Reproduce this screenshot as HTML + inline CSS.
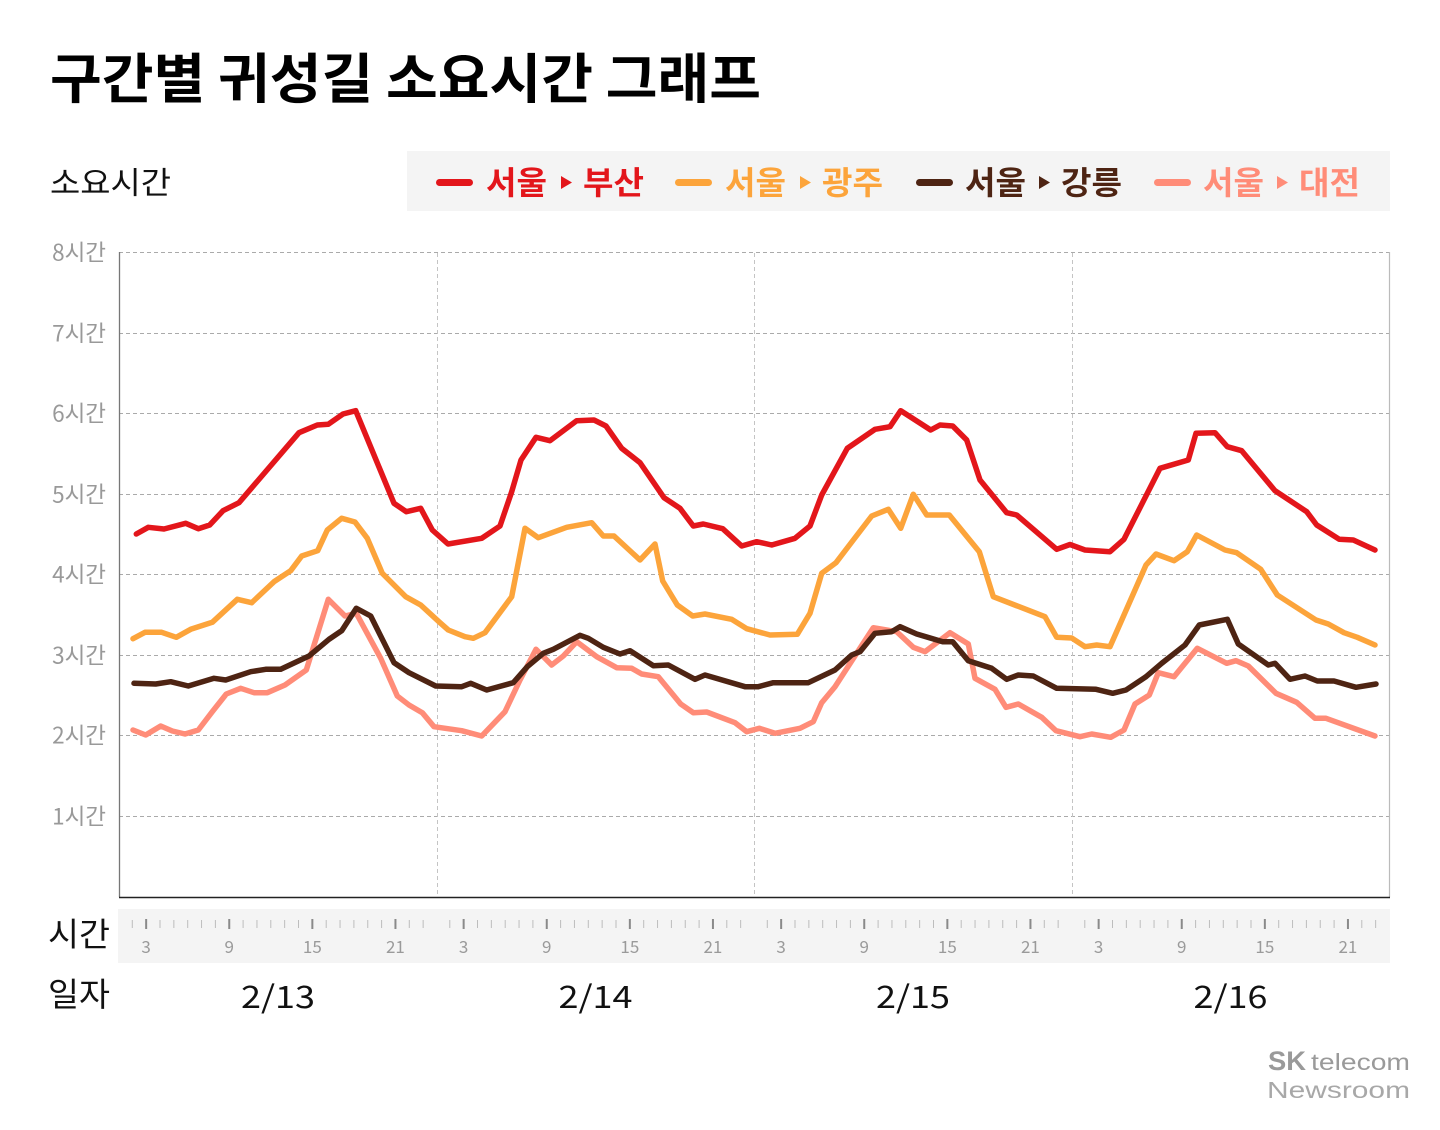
<!DOCTYPE html>
<html><head><meta charset="utf-8"><style>
html,body{margin:0;padding:0;background:#fff;}
svg{display:block;}
text{font-family:"Liberation Sans","Noto Sans CJK KR",sans-serif;}
.k{font-family:"Noto Sans CJK KR","Liberation Sans",sans-serif;}
</style></head><body>
<svg width="1440" height="1130" viewBox="0 0 1440 1130" xmlns="http://www.w3.org/2000/svg">
<rect width="1440" height="1130" fill="#fff"/>
<!-- Title -->
<text class="k" x="50" y="98" font-size="54" font-weight="700" fill="#000" textLength="711" lengthAdjust="spacingAndGlyphs">구간별 귀성길 소요시간 그래프</text>
<!-- y label -->
<text class="k" x="50" y="194" font-size="31" fill="#111" textLength="121" lengthAdjust="spacingAndGlyphs">소요시간</text>
<!-- Legend -->
<rect x="407" y="151" width="983" height="60" fill="#f4f4f4"/>
<g font-size="32" font-weight="700" class="k">
  <line x1="439.5" y1="182.5" x2="469.5" y2="182.5" stroke="#e3161b" stroke-width="7" stroke-linecap="round"/>
  <text class="k" x="486" y="194" fill="#e3161b" textLength="61" lengthAdjust="spacingAndGlyphs">서울</text>
  <polygon points="561,176 561,189 572,182.5" fill="#e3161b"/>
  <text class="k" x="583" y="194" fill="#e3161b" textLength="61" lengthAdjust="spacingAndGlyphs">부산</text>

  <line x1="678.5" y1="182.5" x2="708.5" y2="182.5" stroke="#fca43b" stroke-width="7" stroke-linecap="round"/>
  <text class="k" x="725" y="194" fill="#fca43b" textLength="61" lengthAdjust="spacingAndGlyphs">서울</text>
  <polygon points="800,176 800,189 811,182.5" fill="#fca43b"/>
  <text class="k" x="822" y="194" fill="#fca43b" textLength="61" lengthAdjust="spacingAndGlyphs">광주</text>

  <line x1="919.5" y1="182.5" x2="949.5" y2="182.5" stroke="#4e2413" stroke-width="7" stroke-linecap="round"/>
  <text class="k" x="965" y="194" fill="#4e2413" textLength="61" lengthAdjust="spacingAndGlyphs">서울</text>
  <polygon points="1039,176 1039,189 1050,182.5" fill="#4e2413"/>
  <text class="k" x="1061" y="194" fill="#4e2413" textLength="61" lengthAdjust="spacingAndGlyphs">강릉</text>

  <line x1="1157.5" y1="182.5" x2="1187.5" y2="182.5" stroke="#ff8c78" stroke-width="7" stroke-linecap="round"/>
  <text class="k" x="1203" y="194" fill="#ff8c78" textLength="61" lengthAdjust="spacingAndGlyphs">서울</text>
  <polygon points="1277,176 1277,189 1288,182.5" fill="#ff8c78"/>
  <text class="k" x="1299" y="194" fill="#ff8c78" textLength="61" lengthAdjust="spacingAndGlyphs">대전</text>
</g>
<!-- Grid -->
<g stroke="#aaaaaa" stroke-width="1" stroke-dasharray="4 3" fill="none">
  <line x1="119" y1="252.5" x2="1389" y2="252.5"/>
  <line x1="119" y1="333.5" x2="1389" y2="333.5"/>
  <line x1="119" y1="413.5" x2="1389" y2="413.5"/>
  <line x1="119" y1="494.5" x2="1389" y2="494.5"/>
  <line x1="119" y1="574.5" x2="1389" y2="574.5"/>
  <line x1="119" y1="655.5" x2="1389" y2="655.5"/>
  <line x1="119" y1="735.5" x2="1389" y2="735.5"/>
  <line x1="119" y1="816.5" x2="1389" y2="816.5"/>
</g>
<g stroke="#c4c4c4" stroke-width="1" stroke-dasharray="4 3" fill="none">
  <line x1="437.5" y1="253" x2="437.5" y2="897"/>
  <line x1="754.5" y1="253" x2="754.5" y2="897"/>
  <line x1="1072.5" y1="253" x2="1072.5" y2="897"/>
</g>
<line x1="1389.5" y1="252" x2="1389.5" y2="897" stroke="#bbbbbb" stroke-width="1.2"/>
<line x1="119.5" y1="252" x2="119.5" y2="897" stroke="#777" stroke-width="1.3"/>
<line x1="119" y1="897.5" x2="1390" y2="897.5" stroke="#222" stroke-width="1.5"/>
<!-- Y labels -->
<g class="k" font-size="22.5" fill="#999" text-anchor="end">
  <text class="k" x="106" y="260.5">8시간</text>
  <text class="k" x="106" y="341.5">7시간</text>
  <text class="k" x="106" y="421.5">6시간</text>
  <text class="k" x="106" y="502.5">5시간</text>
  <text class="k" x="106" y="582.5">4시간</text>
  <text class="k" x="106" y="663.5">3시간</text>
  <text class="k" x="106" y="743.5">2시간</text>
  <text class="k" x="106" y="824.5">1시간</text>
</g>
<!-- Series -->
<g fill="none" stroke-width="5.5" stroke-linejoin="round" stroke-linecap="round">
<polyline stroke="#ff8c78" points="133,730 145.7,735 160.7,726 172.3,731 185,734 198.3,730 212.3,711.7 226.3,694 240.7,688.3 254,692.7 267.3,692.7 285,685 306.3,670 328.3,599.3 345,616 356.3,613.3 380.7,658.3 397.3,696 409,705 422.3,712.7 434,726.7 461.7,730.7 481.7,736 505,711.7 520,680 536,649.3 551.7,665 563.3,656 576.7,641.7 596.7,656.7 616.7,667.7 631.7,668.3 641.7,674 658.3,676.7 680.7,704 693.3,712.7 706.7,712 735,722.7 746.7,731.7 759.3,728.3 775,733.3 800,728.3 813.3,721.7 821.7,702.7 835,686.7 856.7,653.3 873.3,627.7 896.7,631.7 913.3,647.3 925,651.7 950,632.7 968.3,644 975,678.3 995,689.3 1006,707.3 1018.3,704 1041.7,717.3 1056,730.7 1080,736.7 1091.7,734 1110.7,737.3 1124,730 1135,704 1149.3,695 1158.3,672.7 1174,676.7 1197.3,648.3 1226.7,663.3 1236,660.7 1248.3,666 1276,693.3 1296.7,702.3 1315,718.3 1326,718.3 1375,736"/>
<polyline stroke="#4e2413" points="134,683.3 155.7,684 170.7,681.7 188.3,686 214,678.3 225.7,680 250.7,671.7 265.7,669.3 280.7,669.3 309,656 329,639.3 341.7,630.7 356.3,608.3 370.7,616 394,662.7 409,672.7 435.7,686 461.7,686.7 470.7,683.3 486.7,690 513.3,682.7 527.3,666.7 543.3,653.3 553.3,649.3 580,635.3 588.3,638.3 603.3,647.3 620,654 630,650.7 653.3,665.7 668.3,665 695,679.3 705,675 745,686.7 758.3,686.7 773.3,682.7 808.3,682.7 835,670 851.7,655 860,651.7 875,633.3 891.7,631.7 900,626.7 916.7,634 942.7,641.7 952.7,641.7 968.3,660.7 991.7,668.3 1006.7,679.3 1018.3,675 1033.3,676 1056.7,688.3 1096,689.3 1112.7,693.3 1126,690 1146,676.7 1161.7,663.3 1185,645 1199.3,625 1227.3,619.3 1238.3,644 1268.3,665 1275,663.3 1290,679.3 1305,676 1317.3,681 1334,681 1356,687.3 1376,684"/>
<polyline stroke="#fca43b" points="133,638.7 145,632.3 161.7,632.3 176.3,637.3 190.7,629.3 212.3,622.3 237.3,599.3 251.7,602.7 274,581.7 290.7,570.7 301.7,556 317.7,550.7 327.3,530 341.7,518.3 355,522 367.3,538.3 382.3,573.3 405.7,596.7 420.7,605 440,622.7 448.3,630 465,636.7 473.3,638.3 485,632.7 511.7,596.7 525,528.3 538.3,537.7 566.7,527.3 591.7,522.7 603.3,536 614,536 640,560 655,544 662.7,581 677.3,605 692.7,616 705,614 731.7,619.3 746.7,628.7 770,635 797.3,634.3 810,613.3 821.7,573.3 836,562.7 853.3,540 871.7,516 888.3,509.3 900.7,528.3 913.3,494.3 926.7,515 949.3,515 979.3,551.7 993.3,596.7 1045,616.7 1056.7,637.3 1071.7,638 1085,646.7 1096.7,645 1110,646.7 1146,565 1156,554 1174,560.7 1187.3,551.7 1196.7,535 1225,550 1236.7,552.7 1260.7,569.3 1277.3,595 1316,620 1328.3,624 1344,632.7 1357.3,637.3 1375,645"/>
<polyline stroke="#e3161b" points="136.3,534 148.3,527.3 164,529 185.7,523.3 198.3,528.7 209.7,525 223,510.7 239,502.7 299,432.7 317.3,425 328.3,424.3 343,414 355.7,410.7 394,503.3 406.3,511.7 420.7,508.3 432.3,530 448,544 481.7,538.3 500,526 511.7,491.7 521,460 536,437.3 550,440.7 576.7,420.7 594,420 606,426 621.7,448.3 640,462.7 664,497.7 680,508.3 693.3,526 703.3,524 722.7,528.7 741.7,546 756.7,541.7 771.7,545 795,538.3 810,526 821.7,495 847.3,448.3 875,429.3 890,426.7 900.7,410.7 930.7,430 940,425 952.7,426 966.7,440 980,480 1006.7,512.7 1016.7,515 1056.7,549.3 1070,544.5 1085,550 1110,551.7 1124,539.3 1160,468.3 1188.3,460 1196,433.3 1215,432.7 1227.3,446.7 1241.7,450.7 1275,490.7 1306.7,511.7 1316.7,525 1339.3,539.3 1353.3,540 1375,550"/>
</g>
<!-- Tick bar -->
<rect x="118" y="909" width="1272" height="54" fill="#f4f4f4"/>
<g stroke="#bdbdbd" stroke-width="1" fill="none">
  <path d="M132.3 920v8 m13.85 -8v8 m13.85 -8v8 m13.85 -8v8 m13.85 -8v8 m13.85 -8v8 m13.85 -8v8 m13.85 -8v8 m13.85 -8v8 m13.85 -8v8 m13.85 -8v8 m13.85 -8v8 m13.85 -8v8 m13.85 -8v8 m13.85 -8v8 m13.85 -8v8 m13.85 -8v8 m13.85 -8v8 m13.85 -8v8 m13.85 -8v8 m13.85 -8v8 m13.85 -8v8"/>
  <path d="M449.8 920v8 m13.85 -8v8 m13.85 -8v8 m13.85 -8v8 m13.85 -8v8 m13.85 -8v8 m13.85 -8v8 m13.85 -8v8 m13.85 -8v8 m13.85 -8v8 m13.85 -8v8 m13.85 -8v8 m13.85 -8v8 m13.85 -8v8 m13.85 -8v8 m13.85 -8v8 m13.85 -8v8 m13.85 -8v8 m13.85 -8v8 m13.85 -8v8 m13.85 -8v8 m13.85 -8v8"/>
  <path d="M767.3 920v8 m13.85 -8v8 m13.85 -8v8 m13.85 -8v8 m13.85 -8v8 m13.85 -8v8 m13.85 -8v8 m13.85 -8v8 m13.85 -8v8 m13.85 -8v8 m13.85 -8v8 m13.85 -8v8 m13.85 -8v8 m13.85 -8v8 m13.85 -8v8 m13.85 -8v8 m13.85 -8v8 m13.85 -8v8 m13.85 -8v8 m13.85 -8v8 m13.85 -8v8 m13.85 -8v8"/>
  <path d="M1084.8 920v8 m13.85 -8v8 m13.85 -8v8 m13.85 -8v8 m13.85 -8v8 m13.85 -8v8 m13.85 -8v8 m13.85 -8v8 m13.85 -8v8 m13.85 -8v8 m13.85 -8v8 m13.85 -8v8 m13.85 -8v8 m13.85 -8v8 m13.85 -8v8 m13.85 -8v8 m13.85 -8v8 m13.85 -8v8 m13.85 -8v8 m13.85 -8v8 m13.85 -8v8 m13.85 -8v8"/>
</g>
<g stroke="#8a8a8a" stroke-width="2" fill="none">
  <path d="M146.15 919v10 M229.25 919v10 M312.35 919v10 M395.45 919v10 M463.65 919v10 M546.75 919v10 M629.85 919v10 M712.95 919v10 M781.15 919v10 M864.25 919v10 M947.35 919v10 M1030.45 919v10 M1098.65 919v10 M1181.75 919v10 M1264.85 919v10 M1347.95 919v10"/>
</g>
<g font-size="17" fill="#9a9a9a" text-anchor="middle" class="k">
  <text class="k" x="146.15" y="953">3</text><text class="k" x="229.25" y="953">9</text><text class="k" x="312.35" y="953">15</text><text class="k" x="395.45" y="953">21</text>
  <text class="k" x="463.65" y="953">3</text><text class="k" x="546.75" y="953">9</text><text class="k" x="629.85" y="953">15</text><text class="k" x="712.95" y="953">21</text>
  <text class="k" x="781.15" y="953">3</text><text class="k" x="864.25" y="953">9</text><text class="k" x="947.35" y="953">15</text><text class="k" x="1030.45" y="953">21</text>
  <text class="k" x="1098.65" y="953">3</text><text class="k" x="1181.75" y="953">9</text><text class="k" x="1264.85" y="953">15</text><text class="k" x="1347.95" y="953">21</text>
</g>
<text class="k" x="48" y="946" font-size="33" fill="#111" textLength="62" lengthAdjust="spacingAndGlyphs">시간</text>
<text class="k" x="48" y="1006" font-size="33" fill="#111" textLength="62" lengthAdjust="spacingAndGlyphs">일자</text>
<g font-size="31" fill="#111" class="k">
  <text class="k" x="241" y="1008" textLength="74" lengthAdjust="spacingAndGlyphs">2/13</text>
  <text class="k" x="558.5" y="1008" textLength="74" lengthAdjust="spacingAndGlyphs">2/14</text>
  <text class="k" x="876" y="1008" textLength="74" lengthAdjust="spacingAndGlyphs">2/15</text>
  <text class="k" x="1193.5" y="1008" textLength="74" lengthAdjust="spacingAndGlyphs">2/16</text>
</g>
<!-- Logo -->
<text x="1268" y="1070" font-size="27" font-weight="700" fill="#9a9a9a" textLength="38" lengthAdjust="spacingAndGlyphs">SK</text>
<text x="1311" y="1070" font-size="23" fill="#9a9a9a" textLength="99" lengthAdjust="spacingAndGlyphs">telecom</text>
<text x="1267" y="1098" font-size="23" fill="#a8a8a8" textLength="143" lengthAdjust="spacingAndGlyphs">Newsroom</text>
</svg>
</body></html>
